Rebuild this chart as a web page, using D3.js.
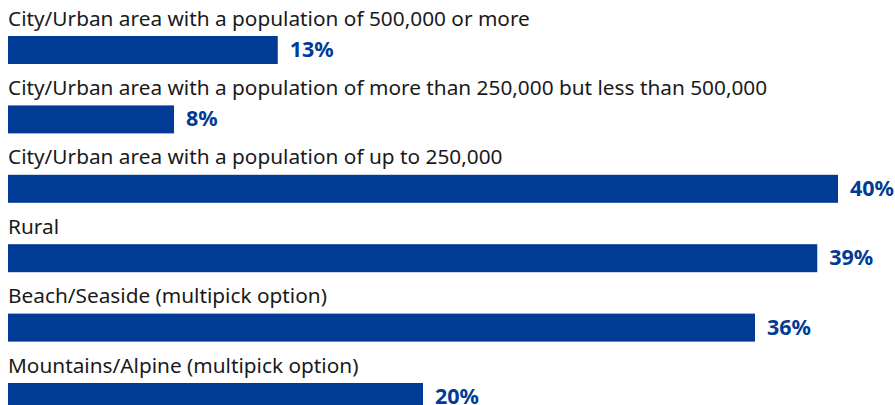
<!DOCTYPE html>
<html>
<head>
<meta charset="utf-8">
<script src="https://cdn.jsdelivr.net/npm/d3@7"></script>
<style>
  body { margin: 0; background: #fff; }
  svg { display: block; }
</style>
</head>
<body>
<svg id="chart" width="895" height="405"></svg>
<script>
// chart data
const categories = [
  'City/Urban area with a population of 500,000 or more',
  'City/Urban area with a population of more than 250,000 but less than 500,000',
  'City/Urban area with a population of up to 250,000',
  'Rural',
  'Beach/Seaside (multipick option)',
  'Mountains/Alpine (multipick option)'
];
const values = [13, 8, 40, 39, 36, 20];

const svg = d3.select('#chart'),
  left = 8,
  barH = 28,
  firstBarTop = 36,
  rowStep = 69.4;

const x = d3.scaleLinear().domain([0, 40]).range([0, 830]);
const y = d3.scaleLinear().domain([0, 1]).range([firstBarTop, firstBarTop + rowStep]);

const rows = svg.selectAll('g.row')
  .data(categories.map((c, i) => ({ cat: c, val: values[i], i })))
  .enter()
  .append('g')
  .attr('class', 'row');

// category labels
rows.append('text')
  .attr('x', left)
  .attr('y', d => y(d.i) - 10.5)
  .style('font-family', '"Noto Sans", sans-serif')
  .style('font-size', '20.8px')
  .style('fill', '#1a1a1a')
  .text(d => d.cat);

// bars
rows.append('rect')
  .attr('x', left)
  .attr('y', d => y(d.i))
  .attr('width', d => x(d.val))
  .attr('height', barH)
  .attr('fill', '#003b95');

// value labels
rows.append('text')
  .attr('x', d => left + x(d.val) + 12)
  .attr('y', d => y(d.i) + 21)
  .style('font-family', '"Noto Sans", sans-serif')
  .style('font-size', '21.5px')
  .style('font-weight', 'bold')
  .style('fill', '#003b95')
  .text(d => d.val + '%');
</script>
</body>
</html>
